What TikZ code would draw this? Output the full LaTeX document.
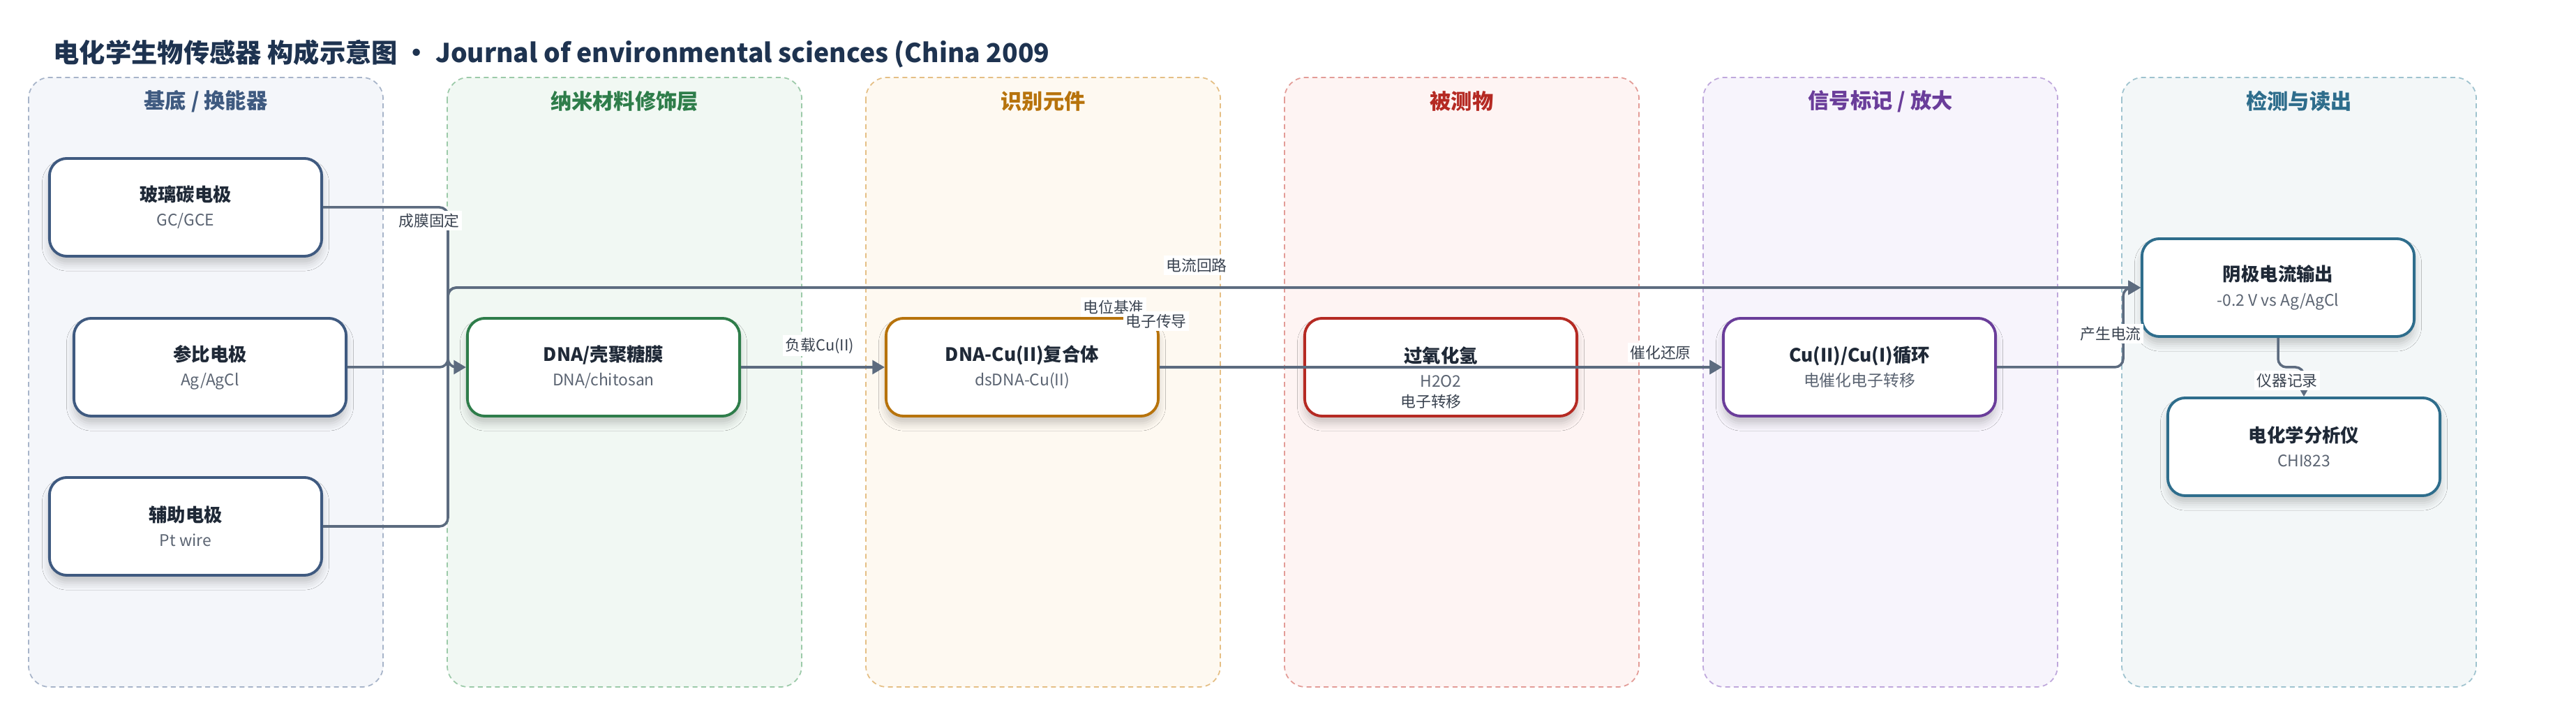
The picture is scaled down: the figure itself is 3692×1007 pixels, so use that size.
\documentclass[tikz,border=0pt]{standalone}
\usepackage{fontspec}
\setmainfont{Noto Sans CJK SC}
\usetikzlibrary{arrows.meta,shadows.blur}
\definecolor{titlec}{HTML}{1E3350}
\definecolor{ntext}{HTML}{1F2937}
\definecolor{stext}{HTML}{5B6472}
\definecolor{ltext}{HTML}{3A4350}
\definecolor{ec}{HTML}{5C6B7F}
\definecolor{cA}{HTML}{3F5A80}\definecolor{fA}{HTML}{F4F6FA}\definecolor{bA}{HTML}{A7B4C9}
\definecolor{cB}{HTML}{2E7D4A}\definecolor{fB}{HTML}{F1F8F3}\definecolor{bB}{HTML}{9CCAA9}
\definecolor{cC}{HTML}{B7730C}\definecolor{fC}{HTML}{FEF9F1}\definecolor{bC}{HTML}{E5BF85}
\definecolor{cD}{HTML}{B52A23}\definecolor{fD}{HTML}{FEF4F3}\definecolor{bD}{HTML}{E39C97}
\definecolor{cE}{HTML}{6A3D9A}\definecolor{fE}{HTML}{F7F4FC}\definecolor{bE}{HTML}{BFA8DC}
\definecolor{cF}{HTML}{2E6D8C}\definecolor{fF}{HTML}{F3F7F8}\definecolor{bF}{HTML}{9FC3CF}
\tikzset{
  lanebox/.style 2 args={draw=#1, fill=#2, line width=0.5pt, dash pattern=on 2pt off 1.5pt, rounded corners=0.3cm},
  lanetitle/.style={font=\bfseries\fontsize{8.6}{10}\selectfont, text=#1},
  box/.style={draw=#1, fill=white, line width=1.1pt, rounded corners=0.25cm,
    minimum width=3.9cm, minimum height=1.4cm, align=center, inner sep=0pt,
    font=\fontsize{6.5}{10}\selectfont, text=stext,
    blur shadow={shadow xshift=0pt, shadow yshift=-3pt, shadow opacity=20, shadow blur radius=3pt}},
  edge/.style={draw=ec, line width=1pt, rounded corners=0.12cm, -{Triangle[length=5pt,width=5.6pt]}},
  elabel/.style={fill=white, inner sep=1pt, text=ltext, font=\fontsize{6.2}{7}\selectfont},
}
\newcommand{\nt}[1]{{\bfseries\fontsize{7.5}{10}\selectfont\color{ntext}#1}}
\begin{document}
\begin{tikzpicture}[x=0.01cm, y=-0.01cm]
\useasboundingbox (0,0) rectangle (3692,1007);
\fill[white] (0,0) rectangle (3692,1007);
% title
\node[anchor=west, font=\bfseries\fontsize{10.6}{12}\selectfont, text=titlec, inner sep=0pt] (title) at (76,77)
  {电化学生物传感器 构成示意图 • Journal of environmental sciences (China 2009};
% lanes
\draw[lanebox={bA}{fA}] (41,111) rectangle (549,984);
\draw[lanebox={bB}{fB}] (641,111) rectangle (1149,984);
\draw[lanebox={bC}{fC}] (1241,111) rectangle (1749,984);
\draw[lanebox={bD}{fD}] (1841,111) rectangle (2349,984);
\draw[lanebox={bE}{fE}] (2441,111) rectangle (2949,984);
\draw[lanebox={bF}{fF}] (3041,111) rectangle (3549,984);
\node[lanetitle=cA] (tA) at (295,145) {基底 / 换能器};
\node[lanetitle=cB] (tB) at (895,145) {纳米材料修饰层};
\node[lanetitle=cC] (tC) at (1495,145) {识别元件};
\node[lanetitle=cD] (tD) at (2095,145) {被测物};
\node[lanetitle=cE] (tE) at (2695,145) {信号标记 / 放大};
\node[lanetitle=cF] (tF) at (3295,145) {检测与读出};
% nodes
\node[box=cA] (gce) at (266,297) {\nt{玻璃碳电极}\\GC/GCE};
\node[box=cA] (ref) at (301,526) {\nt{参比电极}\\Ag/AgCl};
\node[box=cA] (pt) at (266,754) {\nt{辅助电极}\\Pt wire};
\node[box=cB] (chi) at (865,526) {\nt{DNA/壳聚糖膜}\\DNA/chitosan};
\node[box=cC] (dcu) at (1465,526) {\nt{DNA-Cu(II)复合体}\\dsDNA-Cu(II)};
\node[box=cD] (hoo) at (2065,526) {\nt{过氧化氢}\\H2O2};
\node[box=cE] (cyc) at (2665,526) {\nt{Cu(II)/Cu(I)循环}\\电催化电子转移};
\node[box=cF] (cat) at (3265,412) {\nt{阴极电流输出}\\-0.2 V vs Ag/AgCl};
\node[box=cF] (ana) at (3302,640) {\nt{电化学分析仪}\\CHI823};
% edges
\draw[edge] (gce.east) -- (642,297) -- (642,526) -- (chi.west);
\draw[edge] (ref.east) -- (642,526) -- (642,412) -- (cat.west);
\draw[edge] (pt.east) -- (642,754) -- (642,412) -- (cat.west);
\draw[edge] (chi.east) -- (dcu.west);
\draw[edge] (dcu.east) -- (cyc.west);
\draw[edge] (hoo.east) -- (cyc.west);
\draw[edge] (cyc.east) -- (3043,526) -- (3043,412) -- (cat.west);
\draw[edge] (cat.south) -- (3265,526) -- (3302,526) -- (ana.north);
% edge labels
\node[elabel] (l1) at (615,316) {成膜固定};
\node[elabel] (l2) at (1175,495) {负载Cu(II)};
\node[elabel] (l3) at (1715,380) {电流回路};
\node[elabel] (l4) at (1596,440) {电位基准};
\node[elabel] (l5) at (1657,460) {电子传导};
\node[elabel] (l6) at (2051,575) {电子转移};
\node[elabel] (l7) at (2380,505) {催化还原};
\node[elabel] (l8) at (3025,478) {产生电流};
\node[elabel] (l9) at (3278,545) {仪器记录};
\end{tikzpicture}
\end{document}
